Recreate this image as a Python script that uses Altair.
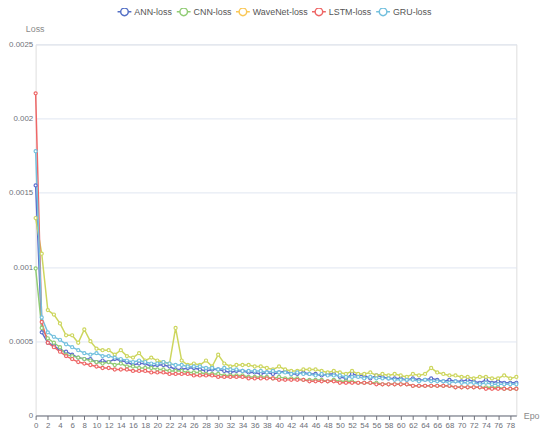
import altair as alt
import pandas as pd

epochs = list(range(80))
series_names = ["ANN-loss", "CNN-loss", "WaveNet-loss", "LSTM-loss", "GRU-loss"]
legend_colors = ["#5470c6", "#91cc75", "#fac858", "#ee6666", "#73c0de"]
line_colors = ["#5c6ecc", "#91cc75", "#cdd65e", "#ee6666", "#73c0de"]

ann = [0.00155, 0.00056, 0.00049, 0.00047, 0.00044, 0.00043, 0.00041, 0.00039, 0.00038, 0.00038,
       0.00036, 0.00037, 0.00036, 0.00038, 0.00037, 0.00036, 0.00034, 0.00035, 0.00035, 0.00033,
       0.00034, 0.00034, 0.00033, 0.00031, 0.00031, 0.00032, 0.00032, 0.00031, 0.00030, 0.00031,
       0.00031, 0.00030, 0.00029, 0.00030, 0.00030, 0.00029, 0.00029, 0.00028, 0.00029, 0.00028,
       0.00029, 0.00030, 0.00028, 0.00028, 0.00029, 0.00028, 0.00028, 0.00027, 0.00028, 0.00028,
       0.00026, 0.00025, 0.00028, 0.00027, 0.00027, 0.00025, 0.00027, 0.00026, 0.00025, 0.00025,
       0.00025, 0.00024, 0.00025, 0.00024, 0.00024, 0.00025, 0.00024, 0.00023, 0.00024, 0.00023,
       0.00023, 0.00024, 0.00023, 0.00022, 0.00024, 0.00022, 0.00023, 0.00022, 0.00022, 0.00022]

cnn = [0.00099, 0.00059, 0.00052, 0.00049, 0.00046, 0.00041, 0.00040, 0.00039, 0.00038, 0.00037,
       0.00036, 0.00035, 0.00036, 0.00034, 0.00035, 0.00033, 0.00033, 0.00032, 0.00032, 0.00032,
       0.00031, 0.00031, 0.00030, 0.00030, 0.00030, 0.00029, 0.00029, 0.00029, 0.00028, 0.00028,
       0.00028, 0.00027, 0.00027, 0.00027, 0.00027, 0.00026, 0.00026, 0.00026, 0.00026, 0.00025,
       0.00026, 0.00025, 0.00025, 0.00025, 0.00024, 0.00024, 0.00024, 0.00024, 0.00023, 0.00024,
       0.00023, 0.00023, 0.00023, 0.00022, 0.00022, 0.00022, 0.00022, 0.00021, 0.00021, 0.00021,
       0.00021, 0.00021, 0.00020, 0.00020, 0.00020, 0.00020, 0.00020, 0.00020, 0.00020, 0.00019,
       0.00019, 0.00019, 0.00019, 0.00019, 0.00019, 0.00019, 0.00019, 0.00018, 0.00018, 0.00018]

wavenet = [0.00133, 0.00109, 0.00071, 0.00068, 0.00062, 0.00054, 0.00054, 0.00049, 0.00058, 0.00050,
           0.00045, 0.00044, 0.00044, 0.00041, 0.00044, 0.00040, 0.00039, 0.00042, 0.00037, 0.00039,
           0.00037, 0.00036, 0.00035, 0.00059, 0.00037, 0.00034, 0.00035, 0.00034, 0.00037, 0.00033,
           0.00041, 0.00035, 0.00033, 0.00034, 0.00034, 0.00034, 0.00033, 0.00033, 0.00032, 0.00031,
           0.00033, 0.00031, 0.00030, 0.00030, 0.00031, 0.00031, 0.00031, 0.00030, 0.00029, 0.00030,
           0.00029, 0.00028, 0.00030, 0.00028, 0.00028, 0.00029, 0.00027, 0.00028, 0.00027, 0.00028,
           0.00027, 0.00026, 0.00028, 0.00027, 0.00028, 0.00032, 0.00029, 0.00028, 0.00027, 0.00027,
           0.00026, 0.00026, 0.00025, 0.00026, 0.00026, 0.00025, 0.00025, 0.00027, 0.00025, 0.00026]

lstm = [0.00217, 0.00063, 0.00049, 0.00046, 0.00043, 0.00040, 0.00038, 0.00036, 0.00035, 0.00034,
        0.00033, 0.00032, 0.00032, 0.00031, 0.00031, 0.00031, 0.00030, 0.00030, 0.00030, 0.00029,
        0.00029, 0.00029, 0.00028, 0.00028, 0.00028, 0.00028, 0.00027, 0.00027, 0.00027, 0.00027,
        0.00026, 0.00026, 0.00026, 0.00026, 0.00026, 0.00025, 0.00025, 0.00025, 0.00025, 0.00025,
        0.00024, 0.00024, 0.00024, 0.00024, 0.00024, 0.00023, 0.00023, 0.00023, 0.00023, 0.00023,
        0.00022, 0.00022, 0.00022, 0.00022, 0.00022, 0.00022, 0.00021, 0.00021, 0.00021, 0.00021,
        0.00021, 0.00021, 0.00020, 0.00020, 0.00020, 0.00020, 0.00020, 0.00020, 0.00020, 0.00019,
        0.00019, 0.00019, 0.00019, 0.00019, 0.00018, 0.00018, 0.00018, 0.00018, 0.00018, 0.00018]

gru = [0.00178, 0.00066, 0.00056, 0.00053, 0.00051, 0.00048, 0.00046, 0.00044, 0.00042, 0.00041,
       0.00042, 0.00040, 0.00040, 0.00039, 0.00038, 0.00037, 0.00036, 0.00037, 0.00036, 0.00035,
       0.00035, 0.00036, 0.00035, 0.00034, 0.00034, 0.00033, 0.00033, 0.00033, 0.00032, 0.00032,
       0.00031, 0.00032, 0.00031, 0.00031, 0.00030, 0.00030, 0.00030, 0.00030, 0.00029, 0.00030,
       0.00029, 0.00029, 0.00028, 0.00029, 0.00028, 0.00028, 0.00027, 0.00028, 0.00027, 0.00027,
       0.00027, 0.00026, 0.00026, 0.00026, 0.00025, 0.00026, 0.00025, 0.00025, 0.00025, 0.00024,
       0.00024, 0.00024, 0.00024, 0.00023, 0.00024, 0.00023, 0.00023, 0.00023, 0.00022, 0.00023,
       0.00022, 0.00022, 0.00022, 0.00021, 0.00022, 0.00021, 0.00021, 0.00021, 0.00021, 0.00021]

y_ticks = [0, 0.0005, 0.001, 0.0015, 0.002, 0.0025]
x_ticks = list(range(0, 80, 2))

values = [ann, cnn, wavenet, lstm, gru]
rows = []
for si, (name, vals) in enumerate(zip(series_names, values)):
    for e, v in zip(epochs, vals):
        rows.append({"epoch": e, "loss": v, "series": name, "order": si})
df = pd.DataFrame(rows)

FONT = "Liberation Sans"
x_enc = alt.X("epoch:Q",
              scale=alt.Scale(domain=[0, 79], nice=False, zero=False),
              axis=alt.Axis(values=x_ticks, title="Epo", titleAngle=0, titleX=494, titleY=0,
                            titleAlign="left", titleBaseline="middle", titleFontWeight="normal",
                            titleFontSize=9, titleColor="#8a8a8a", titleFont=FONT,
                            grid=False, domainColor="#6E7079", tickColor="#6E7079", tickSize=4,
                            labelFontSize=8, labelColor="#6E7079", labelFont=FONT,
                            labelPadding=2, labelFlush=False, labelOverlap=False))
y_enc = alt.Y("loss:Q",
              scale=alt.Scale(domain=[0, 0.0025], nice=False),
              axis=alt.Axis(values=y_ticks, format="~g", title="Loss", titleAngle=0,
                            titleX=-1, titleY=-16, titleAlign="center", titleBaseline="middle",
                            titleFontWeight="normal", titleFontSize=9, titleColor="#8a8a8a",
                            titleFont=FONT, domain=False, ticks=False, gridColor="#E0E6F1",
                            labelFontSize=8, labelColor="#6E7079", labelFont=FONT,
                            labelPadding=3))

lines = alt.Chart(df).mark_line(
    strokeWidth=1.5,
    point=alt.OverlayMarkDef(filled=False, fill="white", size=10, strokeWidth=1.2),
).encode(
    x=x_enc,
    y=y_enc,
    color=alt.Color("series:N", scale=alt.Scale(domain=series_names, range=line_colors), legend=None),
    order=alt.Order("order:Q"),
)

icon = "M-1,0L-0.55,0M0.55,0L1,0M-0.55,0A0.55,0.55,0,1,0,0.55,0A0.55,0.55,0,1,0,-0.55,0Z"
legend_layer = alt.Chart(df).transform_filter("false").mark_point(filled=False).encode(
    x=x_enc,
    y=y_enc,
    color=alt.Color("series:N",
                    scale=alt.Scale(domain=series_names, range=legend_colors),
                    legend=alt.Legend(title=None, orient="none", direction="horizontal",
                                      legendX=82, legendY=-41, symbolType=icon, symbolSize=196,
                                      symbolStrokeWidth=1.5, symbolFillColor="white",
                                      labelFontSize=9, labelColor="#555555", labelFont=FONT,
                                      labelOffset=2, columnPadding=1, symbolOpacity=1)),
)

chart = alt.layer(lines, legend_layer).resolve_scale(color="independent").properties(
    width=487, height=376,
    autosize=alt.AutoSizeParams(type="none"),
    padding={"left": 28, "top": 34, "right": 26, "bottom": 23},
).configure_view(stroke=None).configure(background="white")

chart.save("out.html", embed_options={"renderer": "svg", "actions": False})
